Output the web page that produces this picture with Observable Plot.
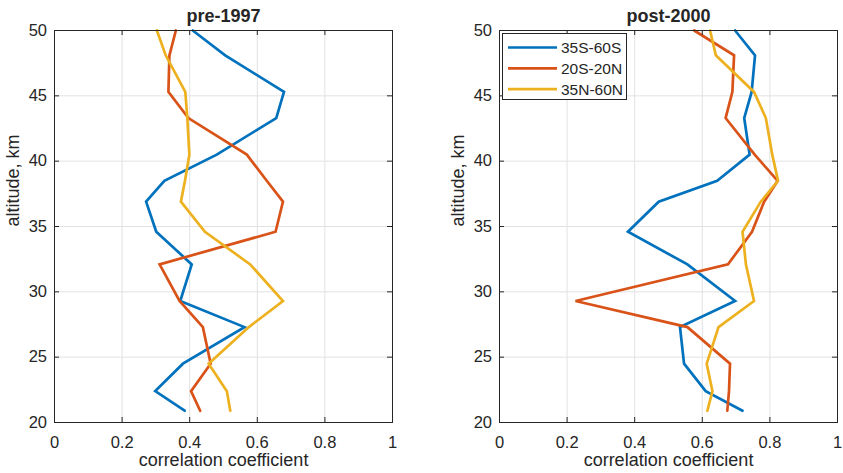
<!DOCTYPE html>
<html><head><meta charset="utf-8">
<script src="https://cdn.jsdelivr.net/npm/d3@7"></script>
<script src="https://cdn.jsdelivr.net/npm/@observablehq/plot@0.6"></script>
<style>
body{margin:0;background:#fff;}
#wrap{position:relative;width:843px;height:473px;display:flex;}
#legend{position:absolute;left:502px;top:33px;width:125px;height:67px;box-sizing:border-box;border:1px solid #262626;background:#fff;}
</style></head><body><div id="wrap"></div>
<script>
const altitude = [50, 48.1, 45.3, 43.3, 40.5, 38.5, 36.9, 34.6, 32.1, 29.3, 27.3, 24.5, 22.4, 20.9];
const regions = ["35S-60S", "20S-20N", "35N-60N"];
const colors = ["#0072BD", "#D95319", "#EDB120"];
const pre_35S60S = [0.409, 0.505, 0.679, 0.656, 0.480, 0.325, 0.271, 0.301, 0.406, 0.372, 0.562, 0.380, 0.298, 0.385];
const pre_20S20N = [0.359, 0.340, 0.337, 0.396, 0.569, 0.628, 0.676, 0.654, 0.311, 0.370, 0.439, 0.462, 0.404, 0.431];
const pre_35N60N = [0.303, 0.329, 0.387, 0.393, 0.399, 0.386, 0.374, 0.445, 0.579, 0.676, 0.575, 0.456, 0.510, 0.520];
const post_35S60S = [0.697, 0.756, 0.746, 0.724, 0.740, 0.644, 0.471, 0.380, 0.556, 0.697, 0.534, 0.546, 0.610, 0.719];
const post_20S20N = [0.576, 0.694, 0.689, 0.669, 0.755, 0.823, 0.783, 0.747, 0.676, 0.225, 0.556, 0.682, 0.679, 0.674];
const post_35N60N = [0.623, 0.640, 0.753, 0.788, 0.807, 0.824, 0.773, 0.719, 0.729, 0.753, 0.648, 0.613, 0.630, 0.615];
const xTicks = [0, 0.2, 0.4, 0.6, 0.8, 1];
const xTickLabels = ["0", "0.2", "0.4", "0.6", "0.8", "1"];
const yTicks = [20, 25, 30, 35, 40, 45, 50];
const titles = ["pre-1997", "post-2000"];
const xLabel = "correlation coefficient";
const yLabel = "altitude, km";

const FONT = '"Liberation Sans", Arial, Helvetica, sans-serif';
const INK = "#262626";
const PW = 338, PH = 392;

function panel(title, series, width, ml, mr) {
  const data = [];
  regions.forEach((r, i) => series[i].forEach((v, j) => data.push({region: r, alt: altitude[j], r: v})));
  return Plot.plot({
    width, height: 473,
    marginLeft: ml, marginRight: mr, marginTop: 30, marginBottom: 51,
    style: {fontFamily: FONT, fontSize: "16.5px", color: INK, background: "white", overflow: "visible"},
    x: {domain: [0, 1], label: null},
    y: {domain: [20, 50], label: null},
    color: {domain: regions, range: colors},
    marks: [
      Plot.gridX(xTicks, {stroke: "#e2e2e2", strokeOpacity: 1}),
      Plot.gridY(yTicks, {stroke: "#e2e2e2", strokeOpacity: 1}),
      Plot.line(data, {x: "r", y: "alt", z: "region", stroke: "region", strokeWidth: 2.7, strokeLinejoin: "miter", strokeMiterlimit: 3}),
      Plot.frame({stroke: INK, strokeWidth: 1}),
      Plot.ruleX(xTicks, {x: d => d, insetTop: PH - 5, stroke: INK}),
      Plot.ruleX(xTicks, {x: d => d, insetBottom: PH - 5, stroke: INK}),
      Plot.ruleY(yTicks, {y: d => d, insetRight: PW - 5, stroke: INK}),
      Plot.ruleY(yTicks, {y: d => d, insetLeft: PW - 5, stroke: INK}),
      Plot.axisX(xTicks, {tickSize: 0, tickPadding: 14, tickFormat: (d, i) => xTickLabels[i], fontSize: 16.5, fill: INK}),
      Plot.axisY(yTicks, {tickSize: 0, tickPadding: 7.5, tickFormat: d => String(d), fontSize: 16.5, fill: INK}),
      Plot.text([title], {frameAnchor: "top", dy: -8.3, lineAnchor: "bottom", fontWeight: "bold", fontSize: 18, fill: INK}),
      Plot.text([xLabel], {frameAnchor: "bottom", dy: 43.5, lineAnchor: "bottom", fontSize: 18, fill: INK}),
      Plot.text([yLabel], {frameAnchor: "left", dx: -36, rotate: -90, lineAnchor: "bottom", fontSize: 18, fill: INK})
    ]
  });
}

const wrap = document.getElementById("wrap");
wrap.appendChild(panel(titles[0], [pre_35S60S, pre_20S20N, pre_35N60N], 421, 54, 29));
wrap.appendChild(panel(titles[1], [post_35S60S, post_20S20N, post_35N60N], 422, 78, 6));

// legend
const lg = document.createElement("div");
lg.id = "legend";
const ns = "http://www.w3.org/2000/svg";
const s = document.createElementNS(ns, "svg");
s.setAttribute("width", 123); s.setAttribute("height", 65);
s.style.fontFamily = FONT;
regions.forEach((r, i) => {
  const yy = 13.5 + i * 20.8;
  const l = document.createElementNS(ns, "line");
  l.setAttribute("x1", 5); l.setAttribute("x2", 54);
  l.setAttribute("y1", yy); l.setAttribute("y2", yy);
  l.setAttribute("stroke", colors[i]); l.setAttribute("stroke-width", 2.7);
  s.appendChild(l);
  const t = document.createElementNS(ns, "text");
  t.setAttribute("x", 58); t.setAttribute("y", yy + 5.5);
  t.setAttribute("font-size", 15.5); t.setAttribute("fill", INK);
  t.textContent = r;
  s.appendChild(t);
});
lg.appendChild(s);
wrap.appendChild(lg);
</script>
</body></html>
